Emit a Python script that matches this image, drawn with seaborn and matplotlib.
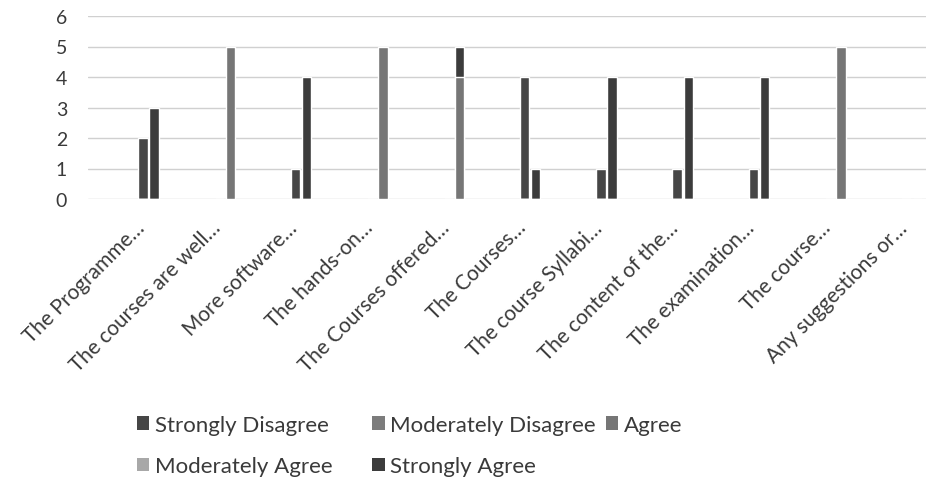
import pandas as pd
import seaborn as sns
import matplotlib.pyplot as plt
from matplotlib.patches import Patch
from matplotlib.transforms import ScaledTranslation

# survey statements (as truncated on the axis)
statements = ["The Programme…", "The courses are well…", "More software…",
              "The hands-on…", "The Courses offered…", "The Courses…",
              "The course Syllabi…", "The content of the…", "The examination…",
              "The course…", "Any suggestions or…"]

responses = ["Strongly Disagree", "Moderately Disagree", "Agree",
             "Moderately Agree", "Strongly Agree"]

strongly_disagree = [2, 0, 1, 0, 0, 4, 1, 1, 1, 0, 0]
moderately_disagree = [0, 0, 0, 0, 0, 0, 0, 0, 0, 0, 0]
agree = [0, 5, 0, 5, 4, 0, 0, 0, 0, 5, 0]
moderately_agree = [0, 0, 0, 0, 0, 0, 0, 0, 0, 0, 0]
strongly_agree = [3, 0, 4, 0, 5, 1, 4, 4, 4, 0, 0]

values = dict(zip(responses, [strongly_disagree, moderately_disagree, agree,
                              moderately_agree, strongly_agree]))

colors = {"Strongly Disagree": "#464646", "Moderately Disagree": "#7c7c7c",
          "Agree": "#767676", "Moderately Agree": "#a8a8a8",
          "Strongly Agree": "#3c3c3c"}
# the scanned chart has the bars sitting in two slots per statement
offset = {"Strongly Disagree": -0.04, "Moderately Disagree": -0.04,
          "Agree": 0.105, "Moderately Agree": -0.04, "Strongly Agree": 0.105}

rows = []
for r in responses:
    for i, v in enumerate(values[r]):
        rows.append({"pos": i + offset[r], "value": v, "response": r})
df = pd.DataFrame(rows)

sns.set_theme(style="white")
plt.rcParams['font.family'] = ['Lato', 'DejaVu Sans']
text_col = "#3a3a3a"

fig = plt.figure(figsize=(9.26, 4.81), dpi=100)
ax = fig.add_axes([88 / 926, 1 - 200 / 481, (926 - 88) / 926, 183 / 481])

draw_order = ["Strongly Agree", "Strongly Disagree", "Moderately Disagree",
              "Agree", "Moderately Agree"]
sns.barplot(data=df, x="pos", y="value", hue="response", hue_order=draw_order,
            palette=colors, native_scale=True, dodge=False, width=0.85,
            errorbar=None, legend=False, ax=ax)

ax.set_ylim(0, 6)
ax.set_xlim(-0.76, 10.22)
ax.set_yticks(range(7))
ax.set_xticks(range(len(statements)))
ax.set_xticklabels(statements, rotation=45, ha="right", rotation_mode="anchor")
ax.tick_params(axis="y", labelsize=14, colors=text_col, pad=15, length=0)
ax.tick_params(axis="x", labelsize=15, colors=text_col, pad=8, length=0)
shift = ScaledTranslation(-12 / 100, -7 / 100, fig.dpi_scale_trans)
for lbl in ax.get_xticklabels():
    lbl.set_transform(lbl.get_transform() + shift)
ax.yaxis.grid(True, color="#d0d0d0", lw=1)
ax.set_axisbelow(True)
for s in ax.spines.values():
    s.set_visible(False)
ax.set_xlabel("")
ax.set_ylabel("")

# Excel-style wrapped legend: two columns plus the odd "Agree" entry
def handle(r):
    return Patch(facecolor=colors[r], edgecolor="none")

leg_kw = dict(frameon=False, fontsize=16, handlelength=0.55, handleheight=0.55,
              handletextpad=0.25, borderpad=0, borderaxespad=0,
              labelspacing=0.95, labelcolor=text_col, loc="upper left")
left = ["Strongly Disagree", "Moderately Agree", "Moderately Disagree", "Strongly Agree"]
fig.legend([handle(r) for r in left], left, ncol=2, columnspacing=1.8,
           bbox_to_anchor=(137 / 926, 1 - 416 / 481), **leg_kw)
fig.legend([handle("Agree")], ["Agree"], bbox_to_anchor=(606 / 926, 1 - 416 / 481),
           **leg_kw)

fig.savefig("out.png", dpi=100)
